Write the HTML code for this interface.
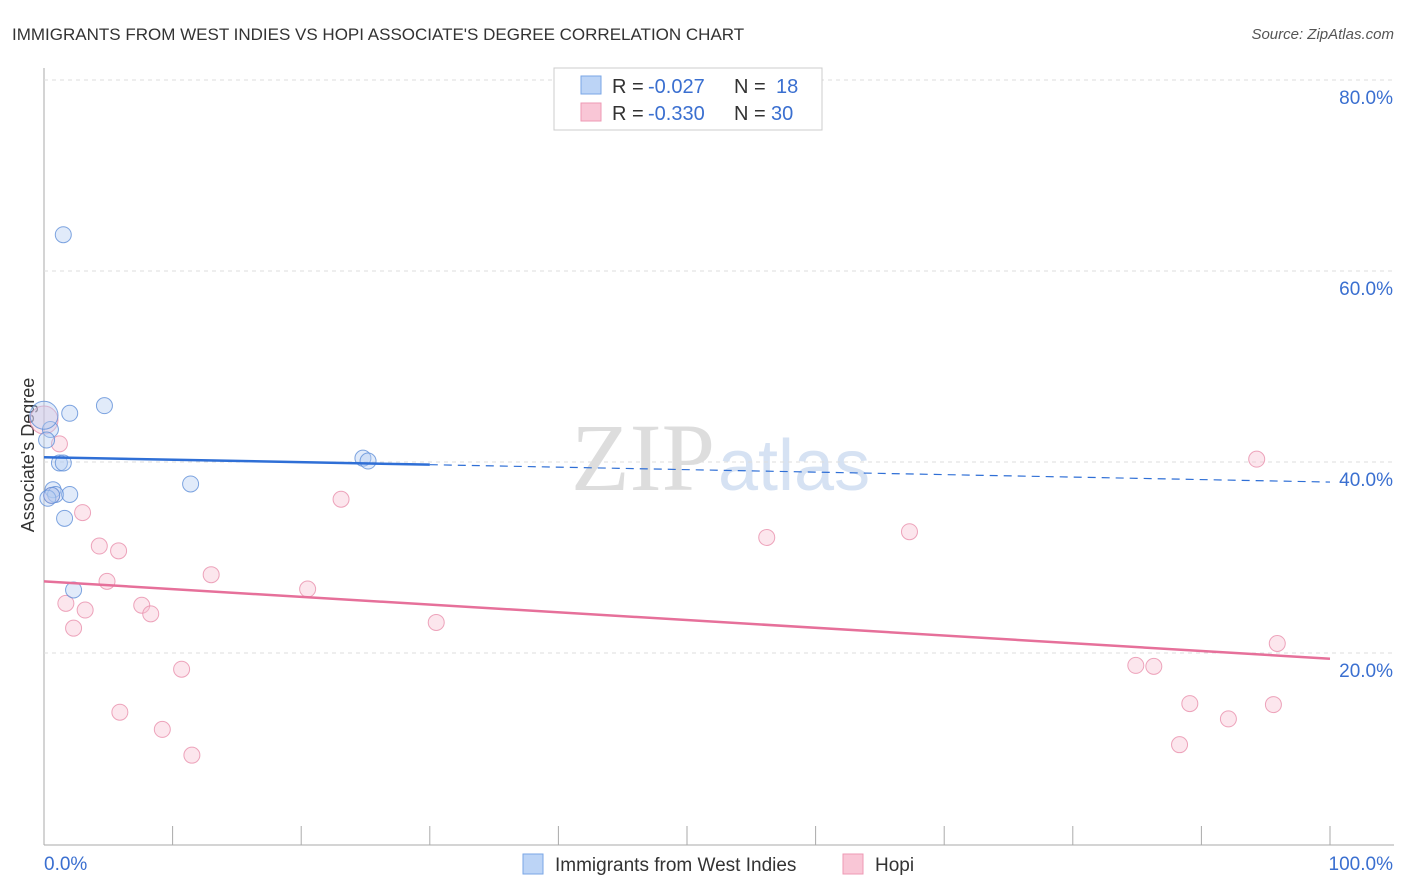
<!DOCTYPE html>
<html><head><meta charset="utf-8"><style>
body{margin:0;background:#fff;font-family:"Liberation Sans",sans-serif;}
#c{position:relative;width:1406px;height:892px;overflow:hidden;}
</style></head><body>
<div id="c">
<svg id="s" width="1406" height="892" xmlns="http://www.w3.org/2000/svg">
<text x="12" y="40" font-size="17" fill="#333">IMMIGRANTS FROM WEST INDIES VS HOPI ASSOCIATE'S DEGREE CORRELATION CHART</text>
<text x="1394" y="39" font-size="15" fill="#555" font-style="italic" text-anchor="end">Source: ZipAtlas.com</text>
<text x="715" y="490" font-size="96" fill="#ddd" text-anchor="end" font-family="Liberation Serif">ZIP</text>
<text x="718" y="490" font-size="72" fill="#d6e2f3">atlas</text>
<text transform="translate(34,455) rotate(-90)" font-size="18" fill="#333" text-anchor="middle">Associate's Degree</text>
<g id="grid"></g><g id="marks"></g>
<g>
<rect x="554" y="68" width="268" height="62" fill="#fff" stroke="#ccc"/>
<rect x="581" y="76" width="20" height="18" fill="#bcd4f6" stroke="#7aa6e6"/>
<rect x="581" y="103" width="20" height="18" fill="#f9c6d6" stroke="#ee99b4"/>
<text x="612" y="93" font-size="20" fill="#333">R =</text>
<text x="648" y="93" font-size="20" fill="#3a6fd0">-0.027</text>
<text x="734" y="93" font-size="20" fill="#333">N =</text>
<text x="776" y="93" font-size="20" fill="#3a6fd0">18</text>
<text x="612" y="120" font-size="20" fill="#333">R =</text>
<text x="648" y="120" font-size="20" fill="#3a6fd0">-0.330</text>
<text x="734" y="120" font-size="20" fill="#333">N =</text>
<text x="771" y="120" font-size="20" fill="#3a6fd0">30</text>
</g>
<g>
<rect x="523" y="854" width="20" height="20" fill="#bcd4f6" stroke="#7aa6e6"/>
<text x="555" y="871" font-size="19" fill="#333">Immigrants from West Indies</text>
<rect x="843" y="854" width="20" height="20" fill="#f9c6d6" stroke="#ee99b4"/>
<text x="875" y="871" font-size="19" fill="#333">Hopi</text>
</g>
</svg></div>
<script>
const yTicks=[20,40,60,80];
const yTickLabels=["20.0%","40.0%","60.0%","80.0%"];
const blueX=[1.5,4.7,2.0,0.5,1.2,1.5,0.7,0.9,0.3,2.0,1.6,2.3,11.4,24.8,25.2,0,0.6,0.2];
const blueY=[63.8,45.9,45.1,43.4,39.9,39.9,37.1,36.6,36.2,36.6,34.1,26.6,37.7,40.4,40.1,44.9,36.5,42.3];
const pinkX=[0,1.2,3.0,4.3,5.8,4.9,1.7,3.2,2.3,7.6,8.3,13.0,20.5,23.1,10.7,5.9,9.2,11.5,30.5,56.2,67.3,94.3,95.9,84.9,86.3,89.1,92.1,95.6,88.3,0.6];
const pinkY=[44.4,41.9,34.7,31.2,30.7,27.5,25.2,24.5,22.6,25.0,24.1,28.2,26.7,36.1,18.3,13.8,12.0,9.3,23.2,32.1,32.7,40.3,21.0,18.7,18.6,14.7,13.1,14.6,10.4,36.5];
const blueTrend=[40.5,37.9], blueSolidEnd=30;
const pinkTrend=[27.5,19.4];
const NS="http://www.w3.org/2000/svg";
const sx=v=>44+v*12.86, sy=v=>844-v*9.55;
const grid=document.getElementById('grid'), marks=document.getElementById('marks');
function mk(tag,at,parent){const e=document.createElementNS(NS,tag);for(const k in at)e.setAttribute(k,at[k]);parent.appendChild(e);return e;}
let l=mk('line',{x1:44,y1:68,x2:44,y2:845,stroke:'#aaa'},grid);


l=mk('line',{x1:44,y1:845,x2:1394,y2:845,stroke:'#aaa'},grid);


yTicks.forEach((t,i)=>{
 const g=mk('line',{x1:44,y1:sy(t),x2:1394,y2:sy(t),stroke:'#ddd','stroke-dasharray':'4,4'},grid);
 
 
 const tx=mk('text',{x:1393,y:sy(t)+24,'font-size':19,fill:'#3a6fd0','text-anchor':'end'},grid);
 tx.textContent=yTickLabels[i];
 
 
});
for(let i=0;i<=10;i++){
 const t=mk('line',{x1:sx(i*10),y1:826,x2:sx(i*10),y2:845,stroke:'#aaa'},grid);
 
 
}
let xl=mk('text',{x:44,y:870,'font-size':19,fill:'#3a6fd0'},grid);xl.textContent='0.0%';


xl=mk('text',{x:1393,y:870,'font-size':19,fill:'#3a6fd0','text-anchor':'end'},grid);xl.textContent='100.0%';


function pts(X,Y,fill,stroke,name){X.forEach((x,i)=>{
 const r=(x===0)?14:8;
 const c=mk('circle',{cx:sx(x),cy:sy(Y[i]),r:r,fill:fill,'fill-opacity':0.4,stroke:stroke,'stroke-width':1,'stroke-opacity':0.8},marks);
 
 
});}
pts(pinkX,pinkY,'#f7c0d2','#e88eab','hopi-point');
pts(blueX,blueY,'#b4cdf2','#5f8fd8','west-indies-point');
const bAt=x=>blueTrend[0]+(blueTrend[1]-blueTrend[0])*x/100;
l=mk('line',{x1:sx(0),y1:sy(bAt(0)),x2:sx(blueSolidEnd),y2:sy(bAt(blueSolidEnd)),stroke:'#2f6fd6','stroke-width':2.5},marks);


l=mk('line',{x1:sx(blueSolidEnd),y1:sy(bAt(blueSolidEnd)),x2:sx(100),y2:sy(bAt(100)),stroke:'#2f6fd6','stroke-width':1.2,'stroke-dasharray':'8,6'},marks);


l=mk('line',{x1:sx(0),y1:sy(pinkTrend[0]),x2:sx(100),y2:sy(pinkTrend[1]),stroke:'#e6709a','stroke-width':2.5},marks);


</script>
</body></html>
